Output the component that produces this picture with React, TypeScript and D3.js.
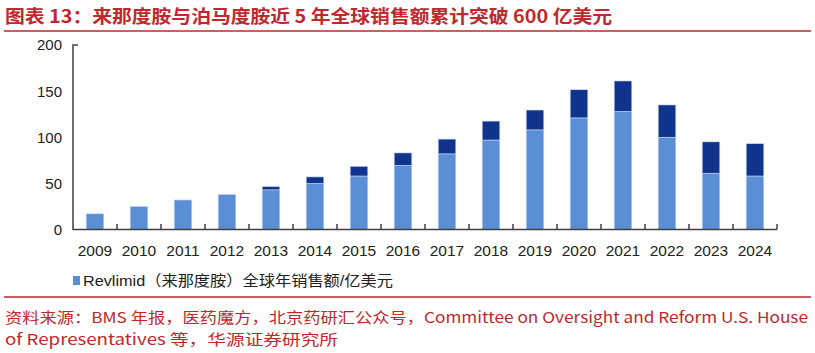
import React from 'react';
import * as d3 from 'd3';

const years = ['2009', '2010', '2011', '2012', '2013', '2014', '2015', '2016', '2017', '2018', '2019', '2020', '2021', '2022', '2023', '2024'];
const revlimid = [17, 25, 32, 38, 43, 50, 58, 69.5, 82, 97, 108, 121, 128, 100, 61, 58];
const pomalyst = [0, 0, 0, 0, 3.5, 7, 10.5, 13.5, 16, 20.5, 21.5, 30.5, 33, 35, 34, 35];
const yTicks = [0, 50, 100, 150, 200];

const titleText = '图表 13：来那度胺与泊马度胺近 5 年全球销售额累计突破 600 亿美元';
const legendLabel = 'Revlimid（来那度胺）全球年销售额/亿美元';
const sourceLine1 = '资料来源：BMS 年报，医药魔方，北京药研汇公众号，Committee on Oversight and Reform U.S. House';
const sourceLine2 = 'of Representatives 等，华源证券研究所';

const W = 815;
const H = 353;
const RED = '#C0282D';
const LIGHT = '#5A8FD6';
const DARK = '#10338D';
const AXIS = '#404040';

export default function App() {
  const x = d3.scaleBand<string>().domain(years).range([73, 777]).paddingInner(0.6).paddingOuter(0.3);
  const y = d3.scaleLinear().domain([0, 200]).range([229.5, 45]);
  const rows = years.map((yr, i) => ({ year: yr, rev: revlimid[i], pom: pomalyst[i] }));
  const series = d3.stack<any>().keys(['rev', 'pom'])(rows);
  const colors = [LIGHT, DARK];
  const step = x.step();
  const x0 = 73;

  return (
    <svg width={W} height={H} style={{ position: 'absolute', left: 0, top: 0, background: '#fff' }}>
      <text x={5} y={23} fill={RED} fontSize={18} fontWeight="bold"
        fontFamily="'Noto Sans CJK SC', sans-serif" textLength={607} lengthAdjust="spacingAndGlyphs">{titleText}</text>
      <line x1={4} x2={811} y1={31} y2={31} stroke={RED} strokeWidth={1.5} />

      {series.map((s, si) => (
        <g key={si}>
          {s.map((d: any, i: number) => (
            d[1] - d[0] > 0 ? (
              <rect key={i} x={x(years[i])} y={y(d[1])} width={x.bandwidth()} height={y(d[0]) - y(d[1])}
                fill={colors[si]} stroke="#C5D6F0" strokeWidth={0.6} />
            ) : null
          ))}
        </g>
      ))}

      <path d={`M${x0 + 5},45 H${x0} V229.5 H777`} fill="none" stroke={AXIS} strokeWidth={1.5} />
      {years.map((_, i) => (
        <line key={i} x1={x0 + step * (i + 1)} x2={x0 + step * (i + 1)} y1={229.5} y2={224} stroke={AXIS} strokeWidth={1.5} />
      ))}
      {yTicks.map(t => (
        <text key={t} x={62} y={y(t)} dy="0.36em" textAnchor="end" fontSize={15}
          fontFamily="'Liberation Sans', Arial, sans-serif" fill="#222">{t}</text>
      ))}
      {years.map(yr => (
        <text key={yr} x={(x(yr) as number) + x.bandwidth() / 2} y={256} textAnchor="middle" fontSize={15.5}
          fontFamily="'Liberation Sans', Arial, sans-serif" fill="#222">{yr}</text>
      ))}

      <rect x={73} y={276} width={7} height={9} fill={LIGHT} />
      <text x={83} y={286} fontSize={15} fill="#222" fontFamily="'Liberation Sans', 'Noto Sans CJK SC', sans-serif"
        textLength={310} lengthAdjust="spacingAndGlyphs">{legendLabel}</text>

      <line x1={4} x2={811} y1={297} y2={297} stroke={RED} strokeWidth={1.5} />
      <text x={5} y={323} fontSize={15} fill={RED} fontFamily="'Noto Sans CJK SC', sans-serif"
        textLength={803} lengthAdjust="spacingAndGlyphs">{sourceLine1}</text>
      <text x={5} y={345} fontSize={15} fill={RED} fontFamily="'Noto Sans CJK SC', sans-serif"
        textLength={333} lengthAdjust="spacingAndGlyphs">{sourceLine2}</text>
    </svg>
  );
}
